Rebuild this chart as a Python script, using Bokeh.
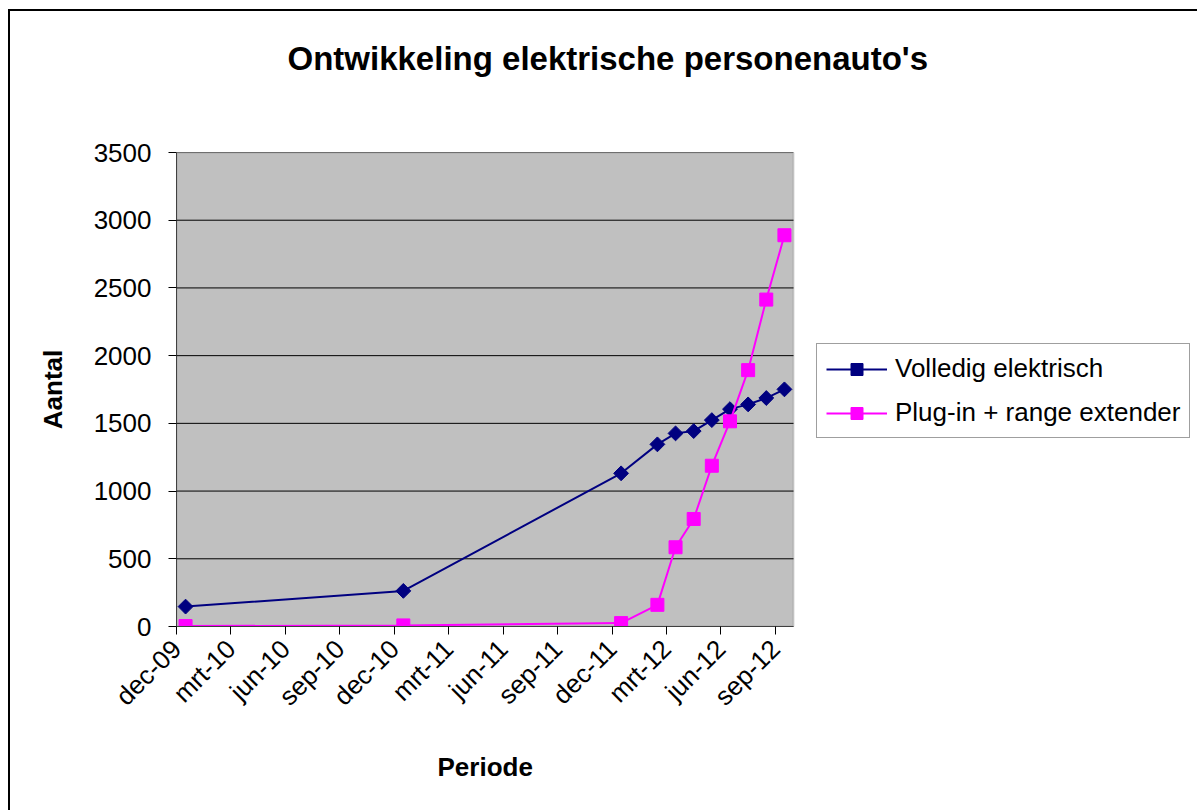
import math
from bokeh.plotting import figure
from bokeh.models import (Range1d, FixedTicker, Legend, LegendItem, Title, BoxAnnotation)
from bokeh.embed import file_html
from bokeh.resources import INLINE

# ---- data ----
periods = ["2009-12", "2010-12", "2011-12", "2012-02", "2012-03", "2012-04",
           "2012-05", "2012-06", "2012-07", "2012-08", "2012-09"]
volledig_elektrisch = [147, 263, 1131, 1345, 1426, 1443, 1524, 1605, 1640, 1687, 1751]
plugin_range_ext = [3, 8, 25, 160, 585, 794, 1187, 1515, 1893, 2414, 2889]
tick_labels = ["dec-09", "mrt-10", "jun-10", "sep-10", "dec-10", "mrt-11",
               "jun-11", "sep-11", "dec-11", "mrt-12", "jun-12", "sep-12"]
y_ticks = [0, 500, 1000, 1500, 2000, 2500, 3000, 3500]
n_months = 34          # axis spans dec-09 .. sep-12 (34 months)

TITLE = "Ontwikkeling elektrische personenauto's"
X_LABEL = "Periode"
Y_LABEL = "Aantal"
FONT = "Liberation Sans"


def month_index(s):
    y, m = s.split("-")
    return (int(y) - 2009) * 12 + int(m) - 12


xs = [month_index(s) + 0.5 for s in periods]
tick_pos = [3 * i for i in range(len(tick_labels))]

W, H = 1197, 810
FRAME_L, PLOT_R, FRAME_T, FRAME_B = 176, 793, 152, 627
px_per_month = (PLOT_R - FRAME_L) / n_months
x_end = (W - FRAME_L) / px_per_month   # frame runs to the canvas edge (legend lives there)

p = figure(width=W, height=H, output_backend="svg", toolbar_location=None,
           x_range=Range1d(0, x_end), y_range=Range1d(0, 3500),
           min_border_left=FRAME_L, min_border_right=0,
           min_border_top=FRAME_T, min_border_bottom=H - FRAME_B,
           title_location=None)
p.border_fill_color = None
p.background_fill_color = None
p.outline_line_color = None
p.styles = {
    "background": ("linear-gradient(#000, #000) 8px 9px / 2px 100% no-repeat, "
                   "linear-gradient(#000, #000) 8px 9px / 100% 2px no-repeat, white"),
}

# grey plot area
p.add_layout(BoxAnnotation(left=0, right=n_months, bottom=0, top=3500,
                           fill_color="#C0C0C0", fill_alpha=1,
                           line_color="#808080", line_width=2, level="underlay"))

p.xgrid.visible = False
p.ygrid.visible = False
# horizontal gridlines across the plot area only
p.segment(x0=[0] * len(y_ticks), x1=[n_months] * len(y_ticks), y0=y_ticks, y1=y_ticks,
          line_color="black", line_width=1)

# axes
p.xaxis.ticker = FixedTicker(ticks=tick_pos)
p.xaxis.bounds = (0, n_months)
p.xaxis.major_label_overrides = {t: l for t, l in zip(tick_pos, tick_labels)}
p.xaxis.major_label_orientation = math.pi / 4
p.yaxis.ticker = FixedTicker(ticks=y_ticks)
for ax in (p.xaxis[0], p.yaxis[0]):
    ax.major_label_text_font = FONT
    ax.major_label_text_font_size = "26px"
    ax.major_label_text_color = "black"
    ax.major_tick_out = 8
    ax.major_tick_in = 0
    ax.minor_tick_out = 0
    ax.minor_tick_in = 0
    ax.major_tick_line_color = "black"
    ax.axis_line_color = "#404040"
    ax.axis_line_width = 1
    ax.axis_label_text_font = FONT
    ax.axis_label_text_font_size = "26px"
    ax.axis_label_text_font_style = "bold"
    ax.axis_label_text_color = "black"
p.yaxis.major_label_standoff = 17
p.xaxis.major_label_standoff = 10
p.yaxis.axis_label = Y_LABEL
p.yaxis.axis_label_standoff = 23

# x-axis title, centred under the grey plot area (not the whole frame)
xtitle = Title(text=X_LABEL, text_font=FONT, text_font_size="26px",
               text_font_style="bold", text_color="black",
               align="left", offset=261, vertical_align="top", standoff=54)
p.add_layout(xtitle, "below")

# series
l1 = p.line(xs, volledig_elektrisch, line_color="#000080", line_width=2)
m1 = p.scatter(xs, volledig_elektrisch, marker="square", angle=math.pi / 4, size=10.5,
               fill_color="#000080", line_color="#000080")
l2 = p.line(xs, plugin_range_ext, line_color="#FF00FF", line_width=2)
m2 = p.scatter(xs, plugin_range_ext, marker="square", size=13,
               fill_color="#FF00FF", line_color="#FF00FF")

legend = Legend(items=[LegendItem(label="Volledig elektrisch", renderers=[l1, m1]),
                       LegendItem(label="Plug-in + range extender", renderers=[l2, m2])],
                location=(816 - FRAME_L, 188), orientation="vertical",
                label_text_font=FONT, label_text_font_size="26px", label_text_color="black",
                glyph_width=61, glyph_height=30, label_height=30, label_standoff=8,
                padding=9, spacing=13, margin=0,
                border_line_color="#404040", border_line_width=1,
                background_fill_color="white", background_fill_alpha=1)
p.add_layout(legend, "center")

# spacer between frame and title, then the title itself
spacer = Title(text=" ", text_font_size="10px", standoff=63)
p.add_layout(spacer, "above")
title = Title(text=TITLE, text_font=FONT, text_font_size="33px",
              text_font_style="bold", text_color="black",
              align="left", offset=111, standoff=0)
p.add_layout(title, "above")

open("out.html", "w").write(file_html(p, INLINE))
